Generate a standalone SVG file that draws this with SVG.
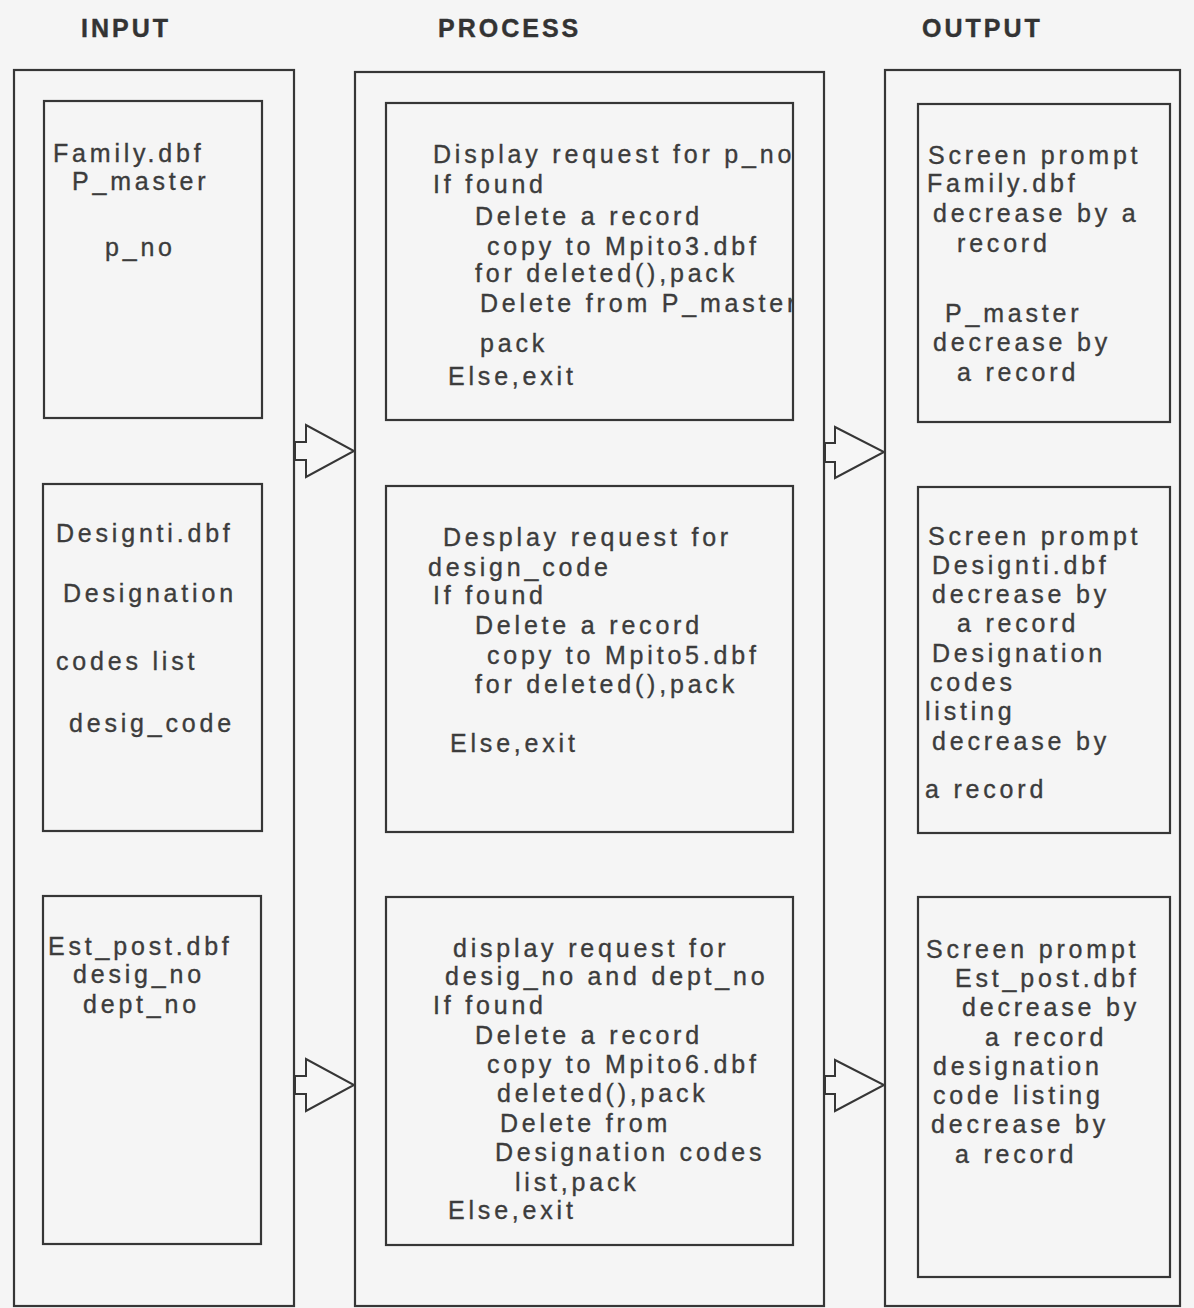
<svg xmlns="http://www.w3.org/2000/svg" width="1194" height="1308" viewBox="0 0 1194 1308">
  <style>
    .frame { fill: none; stroke: #363636; stroke-width: 2.2; }
    .box { fill: none; stroke: #363636; stroke-width: 2.2; }
    .head { font-family: "Liberation Sans", Arial, sans-serif; font-weight: bold; font-size: 25px; letter-spacing: 3px; fill: #333333; stroke: #333333; stroke-width: 0.4; }
    .t { font-family: "Liberation Sans", Arial, sans-serif; font-size: 25px; letter-spacing: 3.8px; fill: #3c3c3c; stroke: #3c3c3c; stroke-width: 0.35; }
    .arrow { fill: #f6f6f6; stroke: #363636; stroke-width: 2; stroke-linejoin: miter; }
  </style>
  <defs>
    <clipPath id="clip-p1"><rect x="387" y="104" width="405" height="315"/></clipPath>
  </defs>
  <rect x="0" y="0" width="1194" height="1308" fill="#f5f5f5"/>

  <!-- column headings -->
  <g id="headings">
    <text class="head" x="81" y="37">INPUT</text>
    <text class="head" x="438" y="37">PROCESS</text>
    <text class="head" x="922" y="37">OUTPUT</text>
  </g>

  <!-- column frames -->
  <g id="col-input"><rect class="frame" x="14" y="70" width="280" height="1236"/></g>
  <g id="col-process"><rect class="frame" x="355" y="72" width="469" height="1234"/></g>
  <g id="col-output"><rect class="frame" x="885" y="70" width="295" height="1236"/></g>

  <!-- input boxes -->
  <g id="in-family">
    <rect class="box" x="44" y="101" width="218" height="317"/>
    <text class="t" x="53" y="162">Family.dbf</text>
    <text class="t" x="72" y="190">P_master</text>
    <text class="t" x="105" y="256">p_no</text>
  </g>
  <g id="in-designti">
    <rect class="box" x="43" y="484" width="219" height="347"/>
    <text class="t" x="56" y="542">Designti.dbf</text>
    <text class="t" x="63" y="602">Designation</text>
    <text class="t" x="56" y="670">codes list</text>
    <text class="t" x="69" y="732">desig_code</text>
  </g>
  <g id="in-estpost">
    <rect class="box" x="43" y="896" width="218" height="348"/>
    <text class="t" x="48" y="955">Est_post.dbf</text>
    <text class="t" x="73" y="983">desig_no</text>
    <text class="t" x="83" y="1013">dept_no</text>
  </g>

  <!-- process boxes -->
  <g id="proc-family">
    <g clip-path="url(#clip-p1)">
      <text class="t" x="433" y="163">Display request for p_no</text>
      <text class="t" x="433" y="193">If found</text>
      <text class="t" x="475" y="225">Delete a record</text>
      <text class="t" x="487" y="255">copy to Mpito3.dbf</text>
      <text class="t" x="475" y="282">for deleted(),pack</text>
      <text class="t" x="480" y="312">Delete from P_master</text>
      <text class="t" x="480" y="352">pack</text>
      <text class="t" x="448" y="385">Else,exit</text>
    </g>
    <rect class="box" x="386" y="103" width="407" height="317"/>
  </g>
  <g id="proc-designti">
    <rect class="box" x="386" y="486" width="407" height="346"/>
    <text class="t" x="443" y="546">Desplay request for</text>
    <text class="t" x="428" y="576">design_code</text>
    <text class="t" x="433" y="604">If found</text>
    <text class="t" x="475" y="634">Delete a record</text>
    <text class="t" x="487" y="664">copy to Mpito5.dbf</text>
    <text class="t" x="475" y="693">for deleted(),pack</text>
    <text class="t" x="450" y="752">Else,exit</text>
  </g>
  <g id="proc-estpost">
    <rect class="box" x="386" y="897" width="407" height="348"/>
    <text class="t" x="453" y="957">display request for</text>
    <text class="t" x="445" y="985">desig_no and dept_no</text>
    <text class="t" x="433" y="1014">If found</text>
    <text class="t" x="475" y="1044">Delete a record</text>
    <text class="t" x="487" y="1073">copy to Mpito6.dbf</text>
    <text class="t" x="497" y="1102">deleted(),pack</text>
    <text class="t" x="500" y="1132">Delete from</text>
    <text class="t" x="495" y="1161">Designation codes</text>
    <text class="t" x="515" y="1191">list,pack</text>
    <text class="t" x="448" y="1219">Else,exit</text>
  </g>

  <!-- output boxes -->
  <g id="out-family">
    <rect class="box" x="918" y="104" width="252" height="318"/>
    <text class="t" x="928" y="164">Screen prompt</text>
    <text class="t" x="927" y="192">Family.dbf</text>
    <text class="t" x="933" y="222">decrease by a</text>
    <text class="t" x="957" y="252">record</text>
    <text class="t" x="945" y="322">P_master</text>
    <text class="t" x="933" y="351">decrease by</text>
    <text class="t" x="957" y="381">a record</text>
  </g>
  <g id="out-designti">
    <rect class="box" x="918" y="487" width="252" height="346"/>
    <text class="t" x="928" y="545">Screen prompt</text>
    <text class="t" x="932" y="574">Designti.dbf</text>
    <text class="t" x="932" y="603">decrease by</text>
    <text class="t" x="957" y="632">a record</text>
    <text class="t" x="932" y="662">Designation</text>
    <text class="t" x="930" y="691">codes</text>
    <text class="t" x="925" y="720">listing</text>
    <text class="t" x="932" y="750">decrease by</text>
    <text class="t" x="925" y="798">a record</text>
  </g>
  <g id="out-estpost">
    <rect class="box" x="918" y="897" width="252" height="380"/>
    <text class="t" x="926" y="958">Screen prompt</text>
    <text class="t" x="955" y="987">Est_post.dbf</text>
    <text class="t" x="962" y="1016">decrease by</text>
    <text class="t" x="985" y="1046">a record</text>
    <text class="t" x="933" y="1075">designation</text>
    <text class="t" x="933" y="1104">code listing</text>
    <text class="t" x="931" y="1133">decrease by</text>
    <text class="t" x="955" y="1163">a record</text>
  </g>

  <!-- hollow block arrows between the columns -->
  <g id="connectors">
    <polygon class="arrow" points="295,442 306,442 306,425 354,451 306,477 306,460 295,460"/>
    <polygon class="arrow" points="295,1076 306,1076 306,1059 354,1085 306,1111 306,1094 295,1094"/>
    <polygon class="arrow" points="825,443 835,443 835,427 884,452 835,478 835,462 825,462"/>
    <polygon class="arrow" points="825,1076 835,1076 835,1060 884,1085 835,1111 835,1094 825,1094"/>
  </g>
</svg>
